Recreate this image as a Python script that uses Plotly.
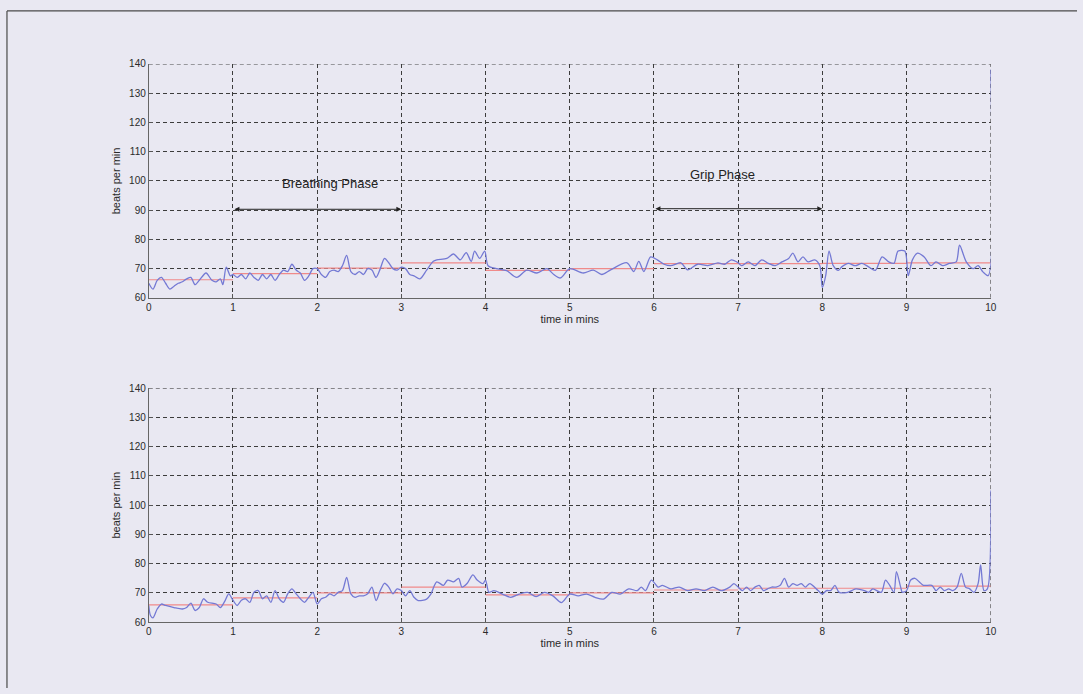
import plotly.graph_objects as go

# ---------------- data ----------------
top_t = [0.00,0.05,0.10,0.15,0.20,0.25,0.30,0.35,0.40,0.45,0.50,0.55,0.60,0.68,0.75,0.80,0.85,0.88,0.92,0.97,
         1.00,1.05,1.10,1.15,1.20,1.25,1.30,1.35,1.40,1.45,1.50,1.55,1.60,1.65,1.70,1.75,1.80,1.85,1.90,1.95,
         2.00,2.05,2.10,2.15,2.20,2.25,2.30,2.35,2.40,2.45,2.50,2.55,2.60,2.65,2.70,2.75,2.80,2.85,2.90,2.95,
         3.00,3.05,3.10,3.15,3.22,3.30,3.38,3.42,3.54,3.62,3.70,3.77,3.83,3.87,3.93,3.99,
         4.03,4.13,4.25,4.37,4.49,4.61,4.73,4.81,4.89,
         5.00,5.16,5.28,5.38,5.48,5.68,5.76,5.82,5.88,5.96,
         6.04,6.12,6.20,6.32,6.40,6.52,6.64,6.76,6.84,6.92,
         7.00,7.04,7.12,7.20,7.28,7.36,7.44,7.52,7.60,7.65,7.71,7.77,7.83,7.91,7.97,
         8.00,8.04,8.08,8.13,8.19,8.23,8.31,8.39,8.47,8.55,8.63,8.71,8.79,8.85,8.90,8.98,
         9.02,9.07,9.13,9.21,9.29,9.35,9.43,9.51,9.59,9.63,9.71,9.79,9.85,9.91,9.97,10.00]
top_bpm = [65,63,66,67,65,63,64,65,65.5,66.5,67,64.5,66,68.5,66,65.5,66.5,64.5,70.5,67.5,
           68,67,68,66.5,68.5,67,66,68,66.5,68,66,68,69.5,69,71.5,69.5,68.5,66,67.5,70,
           70,68,67,69,69.5,69,71,74.5,69,68,69,68,70,69.5,67,70,73.5,72,70,69.5,
           70.5,70,68,67.5,66.5,69.5,72.5,73,73.5,75,73,75.5,72.5,76,73.5,76,
           71,70,69.3,67,69.5,68.5,70,68,66.8,
           70,68.5,69.5,68,69.5,72,69,72.5,69,74,
           73,71.5,71,72,69.6,71.5,71,72,71.5,73,
           72,71,72.3,71,73,71.8,71,72.3,73.5,75.3,72.3,74,72.3,73,71,
           63.5,67.6,76,71,69.4,70.6,71.8,71,71.8,70.6,69.4,74,72.3,71.8,76,76,
           67.6,73,75.3,74,71,72.3,71,71.8,72.3,78,72.3,70,71,68.8,67.6,138]

bot_t = [0.00,0.02,0.05,0.10,0.15,0.20,0.30,0.40,0.45,0.50,0.55,0.60,0.65,0.70,0.80,0.85,0.90,0.95,
         1.00,1.05,1.10,1.15,1.20,1.25,1.30,1.35,1.40,1.45,1.50,1.55,1.60,1.65,1.70,1.75,1.80,1.85,1.90,1.95,
         2.00,2.05,2.10,2.15,2.20,2.25,2.30,2.35,2.40,2.45,2.50,2.55,2.60,2.65,2.70,2.75,2.80,2.85,2.90,2.95,
         3.00,3.05,3.10,3.15,3.20,3.30,3.35,3.42,3.50,3.55,3.62,3.68,3.72,3.78,3.85,3.90,3.97,
         4.00,4.04,4.10,4.20,4.30,4.40,4.50,4.60,4.70,4.80,4.90,
         5.00,5.10,5.20,5.30,5.40,5.50,5.60,5.70,5.80,5.85,5.90,5.97,
         6.05,6.10,6.20,6.30,6.40,6.50,6.60,6.70,6.80,6.90,6.95,
         7.00,7.05,7.10,7.15,7.20,7.25,7.30,7.35,7.40,7.45,7.50,7.55,7.60,7.65,7.70,7.75,7.80,7.85,7.95,
         8.00,8.05,8.10,8.15,8.20,8.30,8.35,8.40,8.50,8.55,8.60,8.70,8.75,8.80,8.85,8.88,8.93,8.95,
         9.00,9.05,9.10,9.15,9.20,9.30,9.35,9.40,9.45,9.50,9.55,9.60,9.65,9.70,9.75,9.80,9.85,9.88,9.92,9.96,10.00]
bot_bpm = [65.7,62.3,61.5,64.5,66.2,65.7,65,64.5,65,66.5,64,65,68,66.8,66.2,65,67,69.7,
           67.5,65.7,67.5,68,66.8,70.2,70.8,68,69,66.8,70.8,68,66.8,69.7,71.4,69.7,68,66.8,68.5,70.2,
           66.2,68,68.5,69.7,69,70.2,70.8,75.3,69.7,68.5,69,69,69.7,72,67.4,70.8,73.3,72,69.7,71.4,
           70.8,69,70.8,68.5,67.4,67.9,69.6,73.8,72.6,74.4,73.8,75,72,73.2,76.2,74.4,73.2,
           74.4,70.2,70.8,69.6,68.5,69.6,70.2,68.7,70.2,69,66.7,
           69.6,69,69.6,68.5,67.9,70.2,69.6,71.4,70.8,72,70.8,74.4,
           72,72.6,71.4,72,70.8,71.4,70.8,72,70.8,72,73.2,
           72,70.8,72,70.8,72,72.6,70.8,71.4,72,72,72.6,75,72,73.2,72.6,73.2,72,73.2,70.8,
           69.6,70.8,70.8,72.6,70.2,70.2,70.8,71.4,70.8,70.2,71.4,70.2,74.4,72.6,70.2,77.3,72,70.2,
           70.8,74.4,75,73.8,72.6,72.6,70.8,72,70.8,71.4,70.8,72,76.7,72,71.4,70.2,73.2,79.6,70.8,71.4,105]

minute_edges = [0, 1, 2, 3, 4, 5, 6, 7, 8, 9, 10]
top_mean = [66.2, 68.3, 70.2, 72.0, 69.4, 70.0, 71.7, 71.7, 71.8, 72.0]
bot_mean = [65.9, 68.3, 70.0, 72.0, 69.3, 70.0, 71.0, 71.6, 71.6, 72.3]

x_ticks = [0, 1, 2, 3, 4, 5, 6, 7, 8, 9, 10]
y_ticks = [60, 70, 80, 90, 100, 110, 120, 130, 140]

# ---------------- figure ----------------
BG = "#e9e8f2"
BLUE = "#7479d4"
RED = "#f08a8a"
GRID = "#3c3c3c"
DASH = "4px,3px"
FAM = "Liberation Sans, Arial, sans-serif"

def step_xy(levels):
    xs, ys = [], []
    for i, lv in enumerate(levels):
        xs += [minute_edges[i], minute_edges[i + 1], None]
        ys += [lv, lv, None]
    return xs, ys

fig = go.Figure()
for t, v, m, xa, ya in [(top_t, top_bpm, top_mean, "x", "y"), (bot_t, bot_bpm, bot_mean, "x2", "y2")]:
    sx, sy = step_xy(m)
    fig.add_trace(go.Scatter(x=sx, y=sy, mode="lines", line=dict(color=RED, width=1.2),
                             xaxis=xa, yaxis=ya, showlegend=False, hoverinfo="skip"))
    fig.add_trace(go.Scatter(x=t, y=v, mode="lines",
                             line=dict(color=BLUE, width=1.3, shape="spline", smoothing=0.8),
                             xaxis=xa, yaxis=ya, showlegend=False))

W, H = 1083, 694
xdom = [147 / W, 996 / W]
top_dom = [1 - 297 / H, 1 - 59 / H]
bot_dom = [1 - 627 / H, 1 - 389 / H]

font = dict(family=FAM, size=10, color="#2a2a2a")
grid = dict(showgrid=True, gridcolor=GRID, griddash=DASH, gridwidth=1)
common_x = dict(range=[0, 10], tickvals=x_ticks, ticks="inside", ticklen=4, tickcolor="#555",
                showline=True, linecolor="#666", linewidth=1, zeroline=False, tickfont=font,
                title=dict(text="time in mins", font=dict(size=11, color="#2a2a2a", family=FAM),
                           standoff=2),
                fixedrange=True, **grid)
common_y = dict(range=[60, 140], tickvals=y_ticks, ticks="inside", ticklen=4, tickcolor="#555",
                showline=True, linecolor="#666", linewidth=1, zeroline=False, tickfont=font,
                title=dict(text="beats per min", font=dict(size=11, color="#2a2a2a", family=FAM),
                           standoff=6),
                fixedrange=True, **grid)

fig.update_layout(
    width=W, height=H, margin=dict(l=0, r=0, t=0, b=0),
    paper_bgcolor=BG, plot_bgcolor=BG,
    xaxis=dict(domain=xdom, anchor="y", **common_x),
    yaxis=dict(domain=top_dom, anchor="x", **common_y),
    xaxis2=dict(domain=xdom, anchor="y2", **common_x),
    yaxis2=dict(domain=bot_dom, anchor="x2", **common_y),
)

# edge grid lines (top at 140, right at 10)
for xr, yr in [("x", "y"), ("x2", "y2")]:
    fig.add_shape(type="line", xref=xr, yref=yr, x0=0, x1=10, y0=140, y1=140,
                  line=dict(color=GRID, width=1, dash=DASH), layer="below")
    fig.add_shape(type="line", xref=xr, yref=yr, x0=10, x1=10, y0=60, y1=140,
                  line=dict(color=GRID, width=1, dash=DASH), layer="below")

# partial outer frame (top and left edges only)
fx, fy = 4 / W, 1 - 5 / H
fig.add_shape(type="line", xref="paper", yref="paper", x0=fx, x1=1, y0=fy, y1=fy,
              line=dict(color="#4a4a4a", width=1.2), layer="below")
fig.add_shape(type="line", xref="paper", yref="paper", x0=fx, x1=fx, y0=0, y1=fy,
              line=dict(color="#4a4a4a", width=1.2), layer="below")

# phase annotations
for x0, x1, yv, label, lx, ly in [(1, 3, 90.3, "Breathing Phase", 2.15, 99.2),
                                  (6, 8, 90.5, "Grip Phase", 6.82, 102.3)]:
    fig.add_annotation(x=x1, y=yv, ax=x0, ay=yv, xref="x", yref="y", axref="x", ayref="y",
                       showarrow=True, arrowhead=2, startarrowhead=2, arrowside="end+start",
                       arrowsize=1, arrowwidth=1, arrowcolor="#222", text="")
    fig.add_annotation(x=lx, y=ly, xref="x", yref="y", text=label, showarrow=False,
                       font=dict(family=FAM, size=13, color="#222"))

fig.write_html("out.html")
